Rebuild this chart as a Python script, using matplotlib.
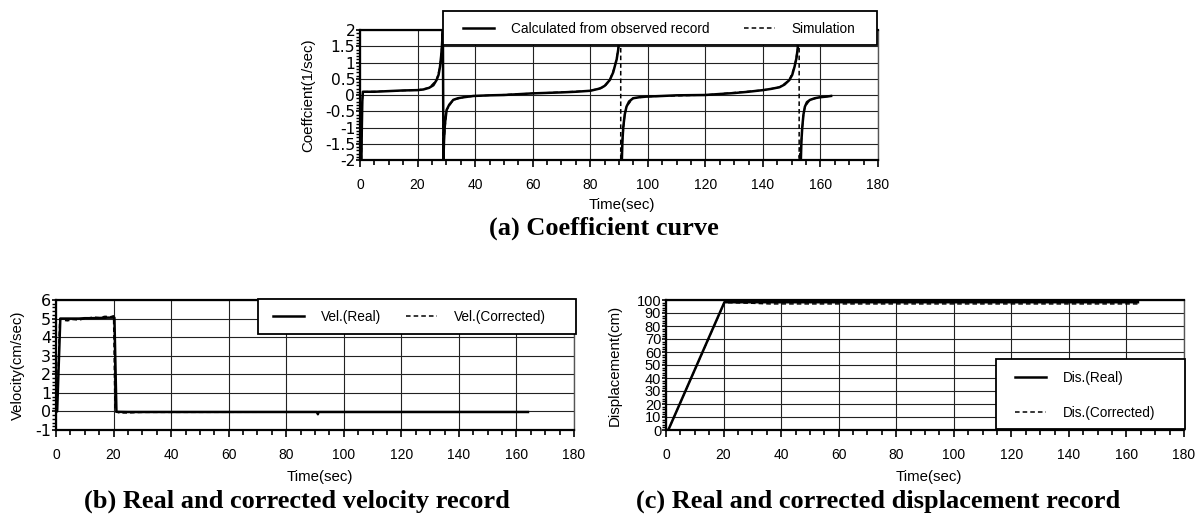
import matplotlib
matplotlib.use("Agg")
import matplotlib.pyplot as plt
from matplotlib.patches import Rectangle
import numpy as np

plt.rcParams["font.family"] = ["Liberation Sans", "DejaVu Sans"]
plt.rcParams["axes.unicode_minus"] = False

# (a) coefficient curve (nan = gap in the line)
coef_t = [0.5, 0.6, 0.8, 1.0, 5, 10, 15, 20, 22, 24, 25.5, 26.6, 27.3, 27.8, 28.2, 28.5, 28.8,
          29.0, 29.2, 29.5, 30.1, 31, 32.4, 34, 36, 39.4, 45, 50, 60, 70, 75, 80, 83.4, 85,
          86.8, 88, 88.5, 89.2, 89.7, 90.1, 90.4, np.nan,
          91.0, 91.2, 91.5, 92.0, 92.6, 93.5, 94.9, 97, 99.5, 105, 110, 119.8, 130, 135, 140,
          143, 145.8, 147.5, 149.2, 150.2, 151, 151.7, 152.1, 152.4, np.nan,
          153.2, 153.4, 153.7, 154.1, 154.6, 155.3, 156.4, 158, 159.8, 162, 163.7]
coef_calc = [-2.0, -1.2, -0.2, 0.10, 0.10, 0.12, 0.14, 0.15, 0.17, 0.22, 0.30, 0.46, 0.62, 0.87, 1.2, 1.55, 2.0,
             -2.0, -1.4, -0.9, -0.46, -0.3, -0.15, -0.1, -0.07, -0.03, -0.01, 0.0, 0.05, 0.08, 0.1, 0.13, 0.2, 0.28,
             0.46, 0.7, 0.87, 1.1, 1.38, 1.7, 2.0, np.nan,
             -2.0, -1.4, -0.97, -0.6, -0.36, -0.2, -0.1, -0.07, -0.05, -0.03, -0.01, 0.0, 0.06, 0.1, 0.15,
             0.19, 0.24, 0.32, 0.46, 0.62, 0.87, 1.15, 1.44, 2.0, np.nan,
             -2.0, -1.4, -0.97, -0.6, -0.36, -0.22, -0.15, -0.1, -0.07, -0.05, -0.03]

sim_t = [0.5, 0.6, 0.8, 1.0, 10, 20, 24, 26.6, 27.8, 28.5, 28.8, 28.8, 29.2, 30.1, 32.4, 36, 40, 60,
         80, 85, 86.8, 88.5, 89.7, 90.3, 90.6, 90.6, 91.2, 92.0, 92.6, 94.9, 99.5, 120, 140, 145.8,
         149.2, 151, 152.1, 152.6, 152.6, 153.4, 154.1, 154.6, 156.4, 159.8, 163.7]
sim_coef = [-2.0, -1.2, -0.2, 0.10, 0.12, 0.15, 0.22, 0.46, 0.87, 1.55, 2.0, -2.0, -1.4, -0.46, -0.15,
            -0.07, -0.03, 0.05, 0.13, 0.25, 0.46, 0.87, 1.38, 1.8, 2.0, -2.0, -1.4, -0.6, -0.36, -0.1,
            -0.05, 0.0, 0.15, 0.24, 0.46, 0.87, 1.44, 2.0, -2.0, -1.4, -0.6, -0.36, -0.15, -0.07, -0.03]

# (b) velocity record
vel_t = [0, 0.4, 1.5, 3, 5, 8, 10, 12, 15, 18, 20, 20.3, 21, 25, 30, 60, 90, 90.8, 91, 91.2, 120, 164]
vel_real = [0, 0, 5.0, 5.0, 5.0, 5.0, 5.02, 5.02, 5.03, 5.05, 5.05, 5.05, -0.02, -0.03, -0.03, -0.03,
            -0.03, -0.03, -0.15, -0.03, -0.03, -0.03]
velc_t = [0, 0.3, 1.3, 3, 4, 6, 8, 10, 13, 15, 17, 19, 20, 20.5, 22, 25, 28, 30, 164]
vel_corr = [0, 0, 5.0, 4.9, 4.88, 4.95, 4.92, 5.0, 5.08, 5.05, 5.12, 5.1, 5.15, 0, -0.08, -0.08, -0.06,
            -0.05, -0.03]

# (c) displacement record
dis_t = [0, 0.8, 20.3, 164]
dis_real = [0, 0, 98.3, 98.3]
disc_t = [0, 0.8, 20.3, 30, 36, 164]
dis_corr = [0, 0, 98.0, 97.5, 97.0, 97.0]

W, H = 1203, 518
fig = plt.figure(figsize=(W / 100, H / 100), dpi=100)
ax_a = fig.add_axes([360 / W, 1 - 160 / H, 518 / W, 130 / H])
ax_b = fig.add_axes([56 / W, 1 - 430 / H, 518 / W, 130 / H])
ax_c = fig.add_axes([666 / W, 1 - 430 / H, 518 / W, 130 / H])


def style(ax, ymin, ymax, ystep, yminor, ysize, yfamily):
    ax.set_xlim(0, 180)
    ax.set_ylim(ymin, ymax)
    ax.set_xticks(np.arange(0, 181, 20))
    ax.set_xticks(np.arange(0, 181, 5), minor=True)
    yt = np.arange(ymin, ymax + ystep / 2, ystep)
    ax.set_yticks(yt)
    ax.set_yticks(np.arange(ymin, ymax + yminor / 2, yminor), minor=True)
    ax.set_yticklabels(["%g" % v for v in yt], family=yfamily)
    ax.grid(True, which="major", color="#222222", lw=0.8)
    ax.set_axisbelow(True)
    ax.tick_params(axis="x", which="major", direction="out", length=5, width=1.2, pad=8, labelsize=10)
    ax.tick_params(axis="x", which="minor", direction="out", length=3.5, width=1.2)
    ax.tick_params(axis="y", which="major", direction="out", length=3, width=1.2, pad=0.5, labelsize=ysize)
    ax.tick_params(axis="y", which="minor", direction="out", length=3, width=1.0)
    for s in ["left", "bottom", "top"]:
        ax.spines[s].set_linewidth(1.6)
    ax.spines["right"].set_linewidth(1.0)
    ax.spines["right"].set_color("#555555")
    ax.set_xlabel("Time(sec)", fontsize=10.8)


def legend_box(x0, y0, x1, y1):
    fig.add_artist(Rectangle((x0 / W, 1 - y1 / H), (x1 - x0) / W, (y1 - y0) / H,
                             transform=fig.transFigure, facecolor="white", edgecolor="black",
                             lw=1.3, zorder=4))


def legend_at(handles, x, y, ncol, **kw):
    fig.legend(handles=handles, loc="center left", bbox_to_anchor=(x / W, 1 - y / H),
               ncol=ncol, fontsize=9.8, frameon=False, borderpad=0, borderaxespad=0,
               handlelength=2.28, handletextpad=1.25, **kw).set_zorder(5)


style(ax_a, -2, 2, 0.5, 0.1, 11.2, "DejaVu Sans")
l1, = ax_a.plot(coef_t, coef_calc, color="black", lw=1.8, label="Calculated from observed record")
l2, = ax_a.plot(sim_t, sim_coef, color="black", lw=1.1, ls=(0, (3, 2)), label="Simulation")
ax_a.set_ylabel("Coeffcient(1/sec)", fontsize=10.8)
ax_a.yaxis.set_label_coords(-0.087, 0.5)
ax_a.xaxis.set_label_coords(0.505, -0.296)
legend_box(443, 11, 877, 45)
legend_at([l1, l2], 463, 28.5, 2, columnspacing=2.5)

style(ax_b, -1, 6, 1, 0.2, 11.5, "DejaVu Sans")
l3, = ax_b.plot(vel_t, vel_real, color="black", lw=1.8, label="Vel.(Real)")
l4, = ax_b.plot(velc_t, vel_corr, color="black", lw=1.1, ls=(0, (3, 2)), label="Vel.(Corrected)")
ax_b.set_ylabel("Velocity(cm/sec)", fontsize=10.8)
ax_b.yaxis.set_label_coords(-0.060, 0.5)
ax_b.xaxis.set_label_coords(0.51, -0.308)
legend_box(258, 299, 576, 334)
legend_at([l3, l4], 273, 316.5, 2, columnspacing=1.8)

style(ax_c, 0, 100, 10, 2, 10.5, "Liberation Sans")
l5, = ax_c.plot(dis_t, dis_real, color="black", lw=1.8, label="Dis.(Real)")
l6, = ax_c.plot(disc_t, dis_corr, color="black", lw=1.1, ls=(0, (3, 2)), label="Dis.(Corrected)")
ax_c.set_ylabel("Displacement(cm)", fontsize=10.8)
ax_c.yaxis.set_label_coords(-0.085, 0.5)
ax_c.xaxis.set_label_coords(0.508, -0.308)
legend_box(996, 359, 1185, 429)
legend_at([l5, l6], 1015, 395.5, 1, labelspacing=1.55)

title_font = dict(family=["Liberation Serif", "DejaVu Serif"], weight="bold", fontsize=19,
                  ha="center", va="center")
fig.text(604 / W, 1 - 228 / H, "(a) Coefficient curve", **title_font)
fig.text(297 / W, 1 - 501 / H, "(b) Real and corrected velocity record", **title_font)
fig.text(878 / W, 1 - 501 / H, "(c) Real and corrected displacement record", **title_font)

fig.savefig("out.png", dpi=100)
